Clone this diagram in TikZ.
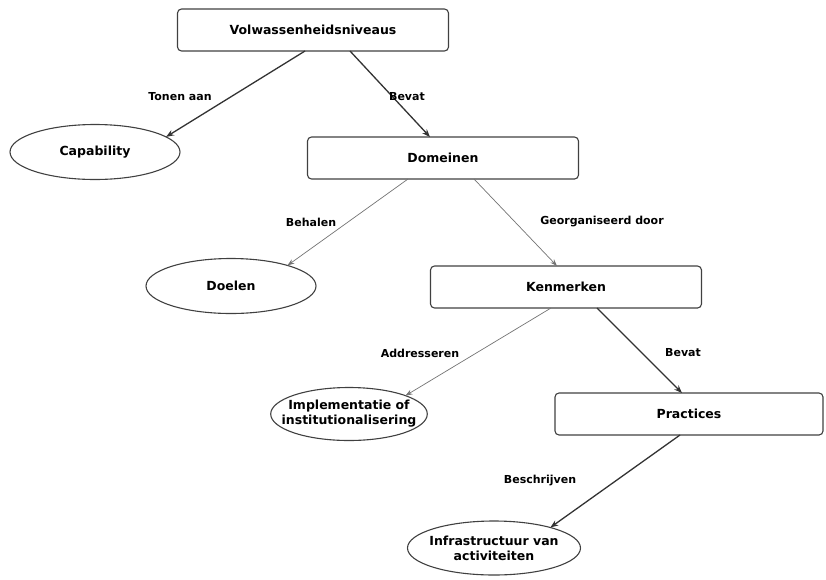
\documentclass[tikz,border=0pt]{standalone}
\usepackage{fontspec}
\setmainfont{DejaVu Sans}
\usetikzlibrary{shapes.geometric,arrows.meta}

\begin{document}
\begin{tikzpicture}[x=1pt,y=-1pt]

            \tikzset{box/.style={draw=black!75, line width=1.1pt, rounded corners=4pt, outer sep=0pt,
                       minimum width=271pt, minimum height=42pt, font=\bfseries\fontsize{12.5}{14}\selectfont}}
            \tikzset{oval/.style={draw=black!75, line width=1.1pt, ellipse, inner sep=0pt, outer sep=0pt,
                       minimum width=170pt, minimum height=55pt, align=center, font=\bfseries\fontsize{12.5}{15}\selectfont}}
            \tikzset{lbl/.style={font=\bfseries\fontsize{11}{13}\selectfont}}
            \tikzset{heavy/.style={draw=black!80, line width=1.3pt, -{Stealth[length=8pt,width=6pt]}}}
            \tikzset{light/.style={draw=black!55, line width=0.7pt, -{Stealth[length=7pt,width=5pt]}}}

            \useasboundingbox (0,0) rectangle (826,579);

            \node [box]  (volw)   at (313,30)  {Volwassenheidsniveaus};
            \node [oval] (cap)    at (95,152)  {Capability};
            \node [box]  (dom)    at (443,158) {Domeinen};
            \node [oval] (doelen) at (231,286) {Doelen};
            \node [box]  (kenm)   at (566,287) {Kenmerken};
            \node [oval, inner xsep=-12pt, minimum width=155pt, minimum height=53pt] (impl) at (349,414)
                  {Implementatie of\\institutionalisering};
            \node [box, minimum width=268pt] (prac) at (689,414) {Practices};
            \node [oval, inner xsep=-4pt, minimum width=173pt, minimum height=54pt] (infra) at (494,548)
                  {Infrastructuur van\\activiteiten};

            \draw [heavy] ([xshift=-8pt]volw.south) -- (cap.12);
            \draw [heavy] ([xshift=37pt]volw.south) -- ([xshift=-13pt]dom.north);
            \draw [light] ([xshift=-35pt]dom.south) -- (doelen.20);
            \draw [light] ([xshift=31pt]dom.south) -- ([xshift=-9pt]kenm.north);
            \draw [light] ([xshift=-15pt]kenm.south) -- (impl.18);
            \draw [heavy] ([xshift=31pt]kenm.south) -- ([xshift=-7pt]prac.north);
            \draw [heavy] ([xshift=-9pt]prac.south) -- (infra.20);

            \node [lbl] (tonen)  at (180,97)  {Tonen aan};
            \node [lbl] (bevat1) at (407,97)  {Bevat};
            \node [lbl] (behal)  at (311,222) {Behalen};
            \node [lbl] (georg)  at (602,222) {Georganiseerd door};
            \node [lbl] (addr)   at (420,353) {Addresseren};
            \node [lbl] (bevat2) at (683,353) {Bevat};
            \node [lbl] (beschr) at (540,480) {Beschrijven};

\end{tikzpicture}
\end{document}
